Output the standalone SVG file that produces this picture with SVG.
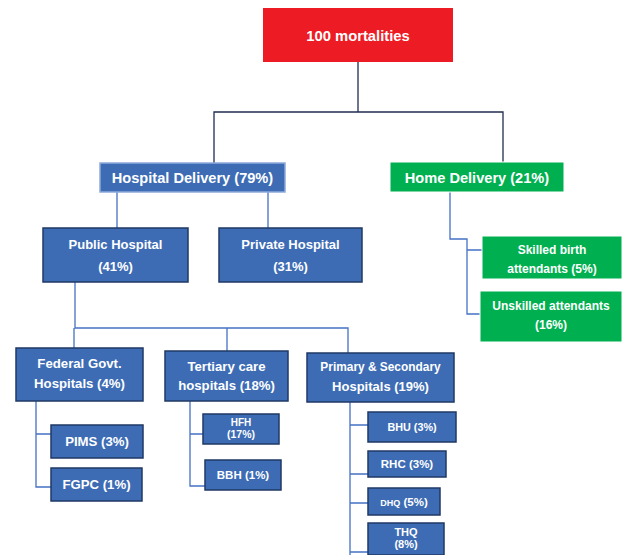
<svg xmlns="http://www.w3.org/2000/svg" width="623" height="555" viewBox="0 0 623 555">
<style>
.b{fill:#3D6CB5;stroke:#1F3864;stroke-width:1.5}
.g{fill:#00B050;stroke:#FFFFFF;stroke-width:1}
.r{fill:#ED1C24}
text{font-family:"Liberation Sans",Arial,sans-serif;font-weight:bold;fill:#FFFFFF;text-anchor:middle}
.top{fill:none;stroke:#1F2D4F;stroke-width:1.3}
.c{fill:none;stroke:#4472C4;stroke-width:1.3}
</style>
<rect width="623" height="555" fill="#FFFFFF"/>
<g id="connectors">
<path class="top" d="M358 62V112M214 163V112H503V162"/>
<path class="c" d="M117 192V228M268 192V228"/>
<path class="c" d="M450 192V239H467V314H480M467 250H482"/>
<path class="c" d="M75 282V328H348V353M74 328V348M227 328V351"/>
<path class="c" d="M36 401V487H51M36 434H51"/>
<path class="c" d="M190 401V486H205M190 434H203"/>
<path class="c" d="M350 402V555M350 425H368M350 474H368M350 503H368M350 552H368"/>
</g>
<g id="n-root"><rect class="r" x="263" y="8" width="190" height="54"/><text x="358" y="41" font-size="14.8">100 mortalities</text></g>
<g id="n-hospital"><rect class="b" x="100" y="163" width="185" height="29" style="stroke:#8EA9DB"/><text x="192.5" y="183" font-size="14.6">Hospital Delivery (79%)</text></g>
<g id="n-home"><rect class="g" x="390" y="162" width="174" height="30"/><text x="477" y="183" font-size="14.6">Home Delivery (21%)</text></g>
<g id="n-public"><rect class="b" x="43" y="228" width="145" height="54"/><text x="115.5" y="249" font-size="13">Public Hospital</text><text x="115.5" y="271" font-size="13">(41%)</text></g>
<g id="n-private"><rect class="b" x="219" y="228" width="143" height="54"/><text x="290.5" y="249" font-size="13">Private Hospital</text><text x="290.5" y="271" font-size="13">(31%)</text></g>
<g id="n-skilled"><rect class="g" x="482" y="236" width="140" height="43"/><text x="552" y="254" font-size="12">Skilled birth</text><text x="552" y="273" font-size="12">attendants (5%)</text></g>
<g id="n-unskilled"><rect class="g" x="480" y="291" width="142" height="51"/><text x="551" y="310" font-size="12">Unskilled attendants</text><text x="551" y="329" font-size="12">(16%)</text></g>
<g id="n-federal"><rect class="b" x="16" y="348" width="127" height="53"/><text x="79.5" y="368" font-size="13.2">Federal Govt.</text><text x="79.5" y="388" font-size="13.2">Hospitals (4%)</text></g>
<g id="n-tertiary"><rect class="b" x="165" y="351" width="123" height="50"/><text x="226.5" y="371" font-size="13.2">Tertiary care</text><text x="226.5" y="390" font-size="13.2">hospitals (18%)</text></g>
<g id="n-primary"><rect class="b" x="307" y="353" width="147" height="49"/><text x="380.5" y="371" font-size="11.9">Primary &amp; Secondary</text><text x="380.5" y="391" font-size="13">Hospitals (19%)</text></g>
<g id="n-pims"><rect class="b" x="51" y="425" width="92" height="33"/><text x="97" y="446" font-size="13.2">PIMS (3%)</text></g>
<g id="n-fgpc"><rect class="b" x="51" y="468" width="91" height="33"/><text x="96.5" y="489" font-size="13.2">FGPC (1%)</text></g>
<g id="n-hfh"><rect class="b" x="203" y="414" width="76" height="30"/><text x="241" y="426" font-size="10">HFH</text><text x="241" y="438" font-size="10.5">(17%)</text></g>
<g id="n-bbh"><rect class="b" x="205" y="460" width="76" height="30"/><text x="243" y="479" font-size="11.5">BBH (1%)</text></g>
<g id="n-bhu"><rect class="b" x="368" y="412" width="88" height="30"/><text x="412" y="431" font-size="10.8">BHU (3%)</text></g>
<g id="n-rhc"><rect class="b" x="368" y="451" width="78" height="26"/><text x="407" y="468" font-size="11.5">RHC (3%)</text></g>
<g id="n-dhq"><rect class="b" x="368" y="488" width="72" height="27"/><text x="404" y="506" font-size="11.5"><tspan font-size="9">DHQ</tspan> (5%)</text></g>
<g id="n-thq"><rect class="b" x="368" y="523" width="76" height="32"/><text x="406" y="535.5" font-size="11">THQ</text><text x="406" y="548" font-size="11">(8%)</text></g>
</svg>
